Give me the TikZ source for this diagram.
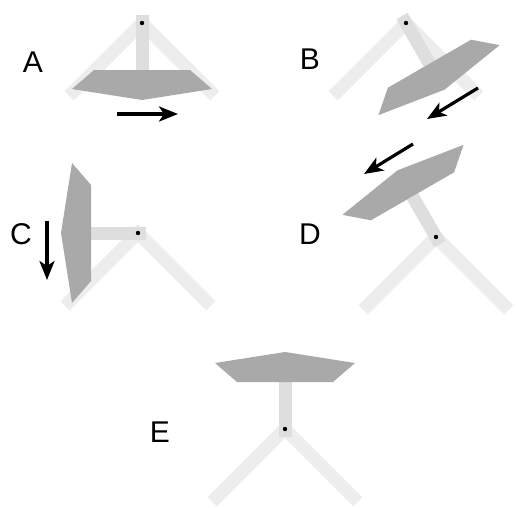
\documentclass[tikz,border=0pt]{standalone}
\usepackage{fontspec}
\setmainfont{Liberation Sans}
\usetikzlibrary{calc,arrows.meta}
\definecolor{legc}{HTML}{EDEDED}
\definecolor{stemc}{HTML}{DEDEDE}
\definecolor{platec}{HTML}{A9A9A9}
\tikzset{
  leg/.style={draw=legc,line width=13pt},
  stemline/.style={draw=stemc,line width=13pt},
  plate/.style={fill=platec},
  motion/.style={draw=black,line width=3.2pt,-{Stealth[length=19pt,width=15pt,inset=5pt]}},
  lbl/.style={font=\fontsize{30}{30}\selectfont,inner sep=0pt,anchor=center}
}
\newcommand{\mech}[4]{%
  \coordinate (#1) at (#2,#3);
  \draw[leg] ($(#1)+(315:5)$) -- ($(#1)+(135:103)$);
  \draw[leg] ($(#1)+(225:5)$) -- ($(#1)+(45:103)$);
  \draw[stemline] ($(#1)+(#4+180:8)$) -- ($(#1)+(#4:47)$);
  \fill[plate] ($(#1)+(#4:47)+(#4+90:48)$) -- ($(#1)+(#4:66)+(#4+90:70)$)
     -- ($(#1)+(#4:77)$) -- ($(#1)+(#4:66)+(#4-90:70)$)
     -- ($(#1)+(#4:47)+(#4-90:48)$) -- cycle;
  \fill[black] (#1) circle (2.2);
}
\begin{document}
\begin{tikzpicture}[x=1pt,y=-1pt]
\useasboundingbox[fill=white] (0,0) rectangle (517,507);
% A
\mech{pA}{142}{23}{90}
\node[lbl] (lA) at (33,62) {A};
\coordinate (aA1) at (117,114); \coordinate (aA2) at (178,114);
\draw[motion] (aA1) -- (aA2);
% B
\mech{pB}{406}{23}{60}
\node[lbl] (lB) at (310,59) {B};
\coordinate (aB1) at (478,88); \coordinate (aB2) at (427,119);
\draw[motion] (aB1) -- (aB2);
% C
\mech{pC}{138}{233}{180}
\node[lbl] (lC) at (21,234) {C};
\coordinate (aC1) at (47,221); \coordinate (aC2) at (47,280);
\draw[motion] (aC1) -- (aC2);
% D
\mech{pD}{436}{237}{240}
\node[lbl] (lD) at (310,234) {D};
\coordinate (aD1) at (413,144); \coordinate (aD2) at (364,174);
\draw[motion] (aD1) -- (aD2);
% E
\mech{pE}{285}{429}{270}
\node[lbl] (lE) at (160,432) {E};
\end{tikzpicture}
\end{document}
